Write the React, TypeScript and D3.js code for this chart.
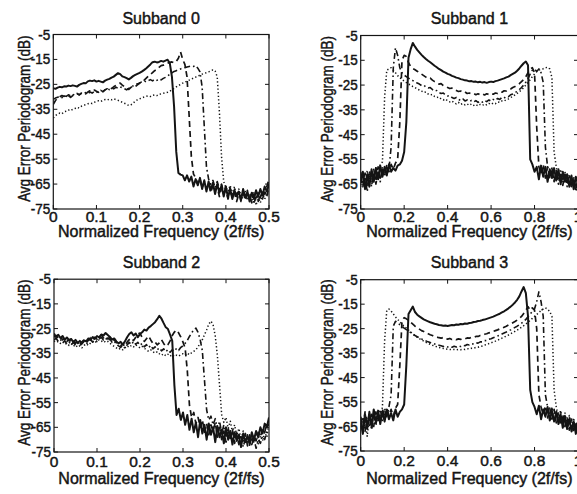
import React from 'react';
import * as d3 from 'd3';

const FONT = '"Liberation Sans", Arial, Helvetica, sans-serif';

// ---------- labels & ticks ----------
const titles = ['Subband 0', 'Subband 1', 'Subband 2', 'Subband 3'];
const xLabel = 'Normalized Frequency (2f/fs)';
const yLabel = 'Avg Error Periodogram (dB)';
const yTicks = [-5, -15, -25, -35, -45, -55, -65, -75];
const xTicksHalf = [0, 0.1, 0.2, 0.3, 0.4, 0.5];
const xTickLabelsHalf = ['0', '0.1', '0.2', '0.3', '0.4', '0.5'];
const xTicksFull = [0, 0.2, 0.4, 0.6, 0.8, 1];
const xTickLabelsFull = ['0', '0.2', '0.4', '0.6', '0.8', '1'];

// frequency sampling of the curves
const stepHalf = 0.005; // subbands 0 and 2 : 0 .. 0.5
const stepFull = 0.01; // subbands 1 and 3 : 0 .. 1

// ---------- Subband 0 (dB) ----------
const sb0Solid = [
  -26.5, -26.8, -26.3, -26, -26.2, -25.8, -25.9, -25.5, -25.7, -25.4,
  -25.6, -25.9, -25.2, -24.8, -24.5, -24.6, -23.8, -23.5, -23.7, -23.4,
  -23.9, -23.6, -23.9, -24.2, -23.5, -23.1, -22.8, -22.3, -21.9, -21.2,
  -20.5, -20.9, -21.8, -22.1, -22.5, -23, -22.4, -21.7, -21.2, -20.8,
  -20.4, -19.9, -19.3, -18.6, -17.8, -17, -16.1, -15.9, -16.2, -16,
  -15.6, -15.9, -15.5, -15.1, -16.5, -22, -34, -52, -60.5, -61.2,
  -61.5, -63.5, -61.5, -64, -62, -66, -63, -65.5, -62.5, -67,
  -63.5, -68, -64, -67.5, -64.5, -69, -65, -68.5, -65.5, -70,
  -66, -70.5, -67, -71, -67.5, -70, -68, -71.5, -67, -70.5,
  -68, -72, -68.5, -71, -67.5, -70, -67, -69.5, -66, -68,
  -65,
];
const sb0Dashed = [
  -33, -31.5, -30.5, -30, -29.5, -29.8, -29.2, -29.6, -30.2, -29.5,
  -29, -28.6, -29.2, -28.5, -28.2, -28.8, -28.1, -27.6, -27.9, -27.3,
  -27.8, -28.2, -27.6, -27.9, -27.2, -26.8, -27.3, -26.6, -26, -25.5,
  -25, -24.5, -25.3, -26, -26.8, -27, -26.2, -25.6, -25.9, -25.2,
  -24.6, -24.1, -23.4, -22.6, -21.8, -21, -20.3, -19.5, -19, -18.2,
  -17.5, -17.3, -16.8, -16.5, -16.2, -16, -16.4, -15.8, -14.5, -12,
  -15, -17, -22, -38, -54, -61, -62.5, -65, -63, -66.5,
  -64, -67, -65, -68.5, -65.5, -67.5, -66, -70, -66.5, -69,
  -67.5, -71, -68, -70, -68.5, -72, -69, -70.5, -68, -71.5,
  -69, -70, -72.5, -69, -71, -68.5, -70.5, -67.5, -69, -66,
  -63,
];
const sb0DashDot = [
  -31, -30.5, -30.2, -29.8, -30.3, -29.5, -29.8, -29.2, -29.6, -29,
  -29.4, -28.8, -29.2, -28.6, -28.9, -28.3, -28.7, -28.1, -28.5, -27.9,
  -28.3, -27.8, -27.4, -27.9, -27.2, -26.8, -27.1, -26.5, -26.8, -26.2,
  -26.5, -26, -26.4, -26.8, -27.2, -26.6, -26.2, -25.6, -25.1, -24.8,
  -24.4, -24, -23.6, -24, -23.5, -23.1, -23.6, -23, -23.4, -22.8,
  -23.2, -22.6, -22.2, -21.6, -21, -20.4, -19.8, -19.5, -19.2, -18.8,
  -18.5, -18.3, -18, -17.8, -17.6, -17.8, -17.5, -18.5, -20, -26,
  -42, -58, -63, -65, -63.5, -66.5, -64, -67, -65, -68.5,
  -66, -69, -66.5, -70.5, -67, -69.5, -67.5, -72, -69, -70,
  -67.5, -71, -68, -73, -69.5, -72, -69, -71, -68, -70,
  -66,
];
const sb0Dotted = [
  -38.5, -37.5, -37, -36.5, -36.8, -36, -35.8, -35.3, -35.6, -35,
  -34.7, -34.2, -34.5, -33.8, -33.5, -33.1, -32.8, -32.5, -32.7, -32.2,
  -31.9, -31.6, -31.9, -31.4, -31.1, -31.3, -30.9, -31.2, -30.8, -31.1,
  -31.4, -31.8, -32.2, -32.6, -33, -33.5, -33.2, -32.5, -31.8, -31.2,
  -30.8, -30.5, -30.1, -29.8, -29.6, -29.9, -29.4, -29.2, -29.5, -29,
  -28.8, -28.6, -28.4, -28.2, -27.8, -27.2, -26.6, -26, -25.5, -25,
  -24.5, -24.1, -23.7, -23.3, -22.9, -22.5, -22.1, -21.7, -21.3, -20.9,
  -20.6, -20.3, -20, -19.6, -19.2, -19.6, -22, -36, -54, -64,
  -66.5, -68, -65.5, -69, -66, -70.5, -67, -69.5, -70, -68,
  -71.5, -69, -72, -68.5, -73.5, -70, -72.5, -69, -71, -68.5,
  -70,
];

// ---------- Subband 2 (dB) ----------
const sb2Solid = [
  -27, -28.5, -27.5, -28.8, -28, -29.5, -28.6, -29.8, -29.2, -30.5,
  -29.6, -30.8, -30, -31, -29.8, -30.2, -29, -29.6, -28.4, -29.2,
  -28, -28.6, -27.4, -27.8, -26.8, -27.6, -28.4, -29.5, -29, -30.2,
  -31, -30.4, -31.5, -30.2, -28.5, -27.2, -26.5, -27.8, -27, -28.5,
  -27.2, -26.5, -25.4, -25.8, -24.6, -24, -23.2, -22.4, -21.2, -19.8,
  -21, -22.8, -24.5, -25.2, -27.5, -30, -48, -60, -57.5, -62,
  -59, -64, -60, -66, -61.5, -67, -63, -69, -62, -67.5,
  -64, -70, -63.5, -68, -65, -71, -64.5, -69, -66, -71.5,
  -65, -70, -66.5, -72, -67, -70.5, -68, -73, -67.5, -71,
  -68.5, -72, -67, -70, -66.5, -69, -65, -67.5, -63.5, -65,
  -61,
];
const sb2Dashed = [
  -28.5, -27.8, -29, -28.2, -29.6, -28.8, -30.2, -29.4, -30.6, -29.8,
  -31, -30.2, -31.3, -30.4, -29.5, -30.6, -29.8, -28.7, -29.6, -28.5,
  -29.3, -28.2, -27.6, -28.8, -28, -29.2, -28.5, -30, -29.4, -30.8,
  -31.5, -32, -31.2, -32.3, -30.5, -29.5, -28.8, -29.9, -28.5, -27.2,
  -26.8, -28.6, -30.2, -29.1, -28, -29.6, -31, -30.4, -31.6, -30.8,
  -29.5, -31, -32.2, -31.5, -30, -27.8, -26.4, -25.6, -26.8, -28.5,
  -30.5, -33, -42, -56, -61, -59, -63.5, -61, -65, -62,
  -67, -63.5, -68, -64, -66.5, -63, -69, -65, -70, -66.5,
  -71, -67, -69.5, -66, -71.5, -68, -72, -69, -70.5, -67.5,
  -72.5, -69, -71, -68, -70.5, -67, -69, -65.5, -67, -63.5,
  -64,
];
const sb2DashDot = [
  -29.5, -29, -30.2, -29.4, -30.8, -30, -31.2, -30.4, -31.6, -30.6,
  -31.8, -30.8, -32, -31, -30.2, -31.2, -30.4, -29.5, -30.5, -29.6,
  -30.2, -29.2, -28.6, -29.6, -28.8, -30, -29.2, -30.6, -30, -31.4,
  -32, -32.6, -31.8, -33, -31.6, -30.6, -31.5, -30.2, -31.4, -30.6,
  -31.8, -31, -32.4, -31.5, -32.8, -31.8, -33.2, -32.4, -33.6, -32.8,
  -34, -33.2, -34.4, -33.5, -34.6, -33.6, -34.2, -33, -33.8, -32.6,
  -32, -31, -29.8, -28.2, -26.8, -25.5, -24.8, -26.5, -29.5, -34,
  -46, -58, -62, -60.5, -64, -61.5, -66, -62.5, -67.5, -64,
  -68.5, -65, -70, -66.5, -69, -67, -71.5, -68, -73, -69.5,
  -71, -68, -72, -69.5, -73.5, -70, -71.5, -68.5, -70, -66.5,
  -67,
];
const sb2Dotted = [
  -30, -30.6, -30.2, -31, -30.4, -31.4, -31, -31.8, -31.2, -32.2,
  -31.6, -32.6, -32, -32.8, -31.8, -31.2, -31.8, -30.8, -30.2, -30.8,
  -30, -29.6, -30.2, -29.8, -30.6, -30.2, -31, -31.6, -32.2, -32.8,
  -33.4, -33, -33.6, -32.8, -32, -32.6, -31.8, -32.4, -31.6, -32.2,
  -32.8, -32.2, -33, -33.6, -34.2, -33.6, -34.4, -35, -34.4, -35.2,
  -35.8, -35.2, -36, -35.4, -36.2, -35.6, -36.4, -35.8, -36.2, -35.6,
  -35.2, -35.8, -35, -35.6, -34.8, -34.2, -33.6, -32.4, -31, -29.5,
  -27.5, -25.5, -23.2, -22, -23.5, -28, -36, -48, -60, -63,
  -61, -65.5, -62.5, -67, -64, -68.5, -65.5, -70, -66.5, -71.5,
  -68, -72.5, -69, -71, -67.5, -72, -68.5, -70.5, -67, -69,
  -62.5,
];

// ---------- Subband 1 (dB) ----------
const sb1Solid = [
  -64, -60, -67, -61, -66, -59, -64, -58.5, -63, -57.5,
  -62, -58, -61.5, -57, -60, -58.5, -59.5, -57.5, -57, -55.5,
  -52, -40, -14, -10.5, -8, -9.5, -10.8, -11.8, -12.8, -13.7,
  -14.5, -15.2, -15.8, -16.5, -17.2, -17.8, -18.5, -19, -19.6, -20,
  -20.5, -20.8, -21.3, -21.6, -22, -22.2, -22.6, -22.8, -23.1, -23.2,
  -23.5, -23.4, -23.7, -23.6, -23.9, -23.7, -24, -23.8, -24.1, -23.8,
  -23.6, -23.8, -23.4, -23.2, -22.9, -22.6, -22.3, -21.9, -21.6, -21,
  -20.5, -20, -19.2, -18.3, -17.2, -16.2, -15.5, -17, -55, -57,
  -60, -58, -63, -57.5, -62, -58, -64, -59, -62.5, -58.5,
  -63.5, -59, -65, -60, -64, -61, -66, -61.5, -67, -62,
  -65,
];
const sb1Dashed = [
  -62, -66, -60.5, -65, -59.5, -63.5, -60, -64, -58, -62.5,
  -59, -61, -57.5, -60, -57, -59, -56.5, -55, -40, -15,
  -13, -13.5, -16, -17.5, -18.3, -18.8, -19.4, -20, -20.6, -21.2,
  -21.8, -22.4, -22.2, -23, -23.6, -24, -24.6, -24.4, -25.2, -25.6,
  -26, -26.4, -26.2, -27, -27.2, -27.6, -27.4, -28, -27.8, -28.4,
  -28.2, -28.6, -28.4, -28.9, -28.5, -29, -28.6, -29, -28.5, -28.8,
  -28.4, -28.7, -28.2, -28.4, -27.8, -27.9, -27.3, -27.4, -26.8, -26.6,
  -26, -25.6, -25, -24.4, -23.6, -22.8, -21.6, -20, -18.5, -18,
  -20, -42, -58, -61, -57, -62.5, -58, -63, -59, -64,
  -59.5, -63, -60, -65.5, -61, -64, -62, -66.5, -62.5, -67,
  -63,
];
const sb1DashDot = [
  -60, -65, -62, -68, -61, -66, -59, -65, -60.5, -64,
  -58, -62, -57, -59, -50, -18, -10, -13, -18, -20,
  -21, -21.6, -22.2, -22.8, -23.2, -23.8, -24.2, -24.6, -25.2, -25,
  -25.8, -26.2, -26, -26.8, -27.4, -27.2, -28, -28.4, -28.2, -29,
  -29.4, -29.2, -30, -30.4, -30, -30.8, -31.2, -30.6, -31.4, -31,
  -31.6, -31.2, -31.8, -31.3, -32, -31.4, -31.9, -31.2, -31.7, -31,
  -31.5, -30.8, -31.2, -30.4, -30.8, -30, -30.3, -29.5, -29.7, -28.9,
  -28.6, -28, -27.6, -26.8, -26, -25, -23.8, -22.4, -20.5, -19,
  -18.5, -19.5, -18.5, -20, -24, -50, -58, -62, -58.5, -64,
  -60, -65, -61, -63.5, -60, -66, -61.5, -65, -63, -68,
  -64,
];
const sb1Dotted = [
  -66, -61, -64.5, -59.5, -63, -60, -62, -58, -61, -57,
  -56, -30, -19, -18.5, -18, -19, -20, -21.2, -22, -22.8,
  -23.4, -24, -24.6, -25, -25.6, -26, -26.6, -27, -27.4, -28,
  -27.8, -28.6, -29, -28.8, -29.6, -30, -29.8, -30.6, -31, -30.6,
  -31.4, -31.8, -31.4, -32.2, -32.6, -32, -32.8, -32.4, -33, -32.6,
  -33.2, -32.6, -33.2, -32.8, -33.4, -32.8, -33.2, -32.6, -33, -32.4,
  -32.8, -32.2, -32.5, -31.8, -32, -31.4, -31.5, -30.8, -30.6, -30,
  -29.6, -29, -28.4, -27.6, -27, -26, -25, -24, -22.8, -21.6,
  -20.5, -19.6, -19, -18.6, -18.4, -18, -17.8, -18.5, -22, -52,
  -58, -62, -59, -64, -60.5, -65, -61, -66, -62, -67.5,
  -63,
];

// ---------- Subband 3 (dB) ----------
const sb3Solid = [
  -63, -68, -60, -66, -59, -65, -58, -63.5, -58.5, -64,
  -59, -63, -58, -62, -59.5, -62.5, -58, -61, -59, -58,
  -56, -40, -19, -17.5, -16, -18.2, -19.3, -20, -20.6, -21.2,
  -21.6, -22, -22.4, -22.7, -23, -23.2, -23.5, -23.6, -23.8, -23.7,
  -23.9, -23.7, -23.5, -23.6, -23.3, -23.4, -23.1, -23.2, -22.9, -23,
  -22.7, -22.6, -22.3, -22.2, -21.9, -21.8, -21.5, -21.3, -21, -20.7,
  -20.4, -20.1, -19.7, -19.3, -18.9, -18.4, -17.9, -17.3, -16.7, -16,
  -15.2, -14.3, -13.2, -11.8, -9.8, -8, -10.5, -20, -50, -55,
  -57, -60, -56.5, -62, -58, -61, -57, -62.5, -58.5, -63,
  -59, -64, -60, -65.5, -61, -66, -62, -67, -63, -68,
  -64,
];
const sb3Dashed = [
  -61, -65, -59, -63.5, -60, -66, -61, -64, -59.5, -62.5,
  -58, -61.5, -57.5, -60.5, -58, -61, -57.5, -56, -40, -22,
  -20.5, -21, -21.6, -22.4, -23.2, -24, -24.6, -25.2, -25.8, -26.2,
  -26.8, -27.1, -27.5, -27.8, -28.2, -28.4, -28.7, -28.9, -28.6, -29.1,
  -29.3, -29, -29.4, -29.1, -29.5, -29.2, -29.4, -29, -29.2, -28.8,
  -28.9, -28.5, -28.6, -28.2, -28.2, -27.8, -27.7, -27.3, -27.1, -26.7,
  -26.5, -26.1, -25.8, -25.5, -25.1, -24.8, -24.4, -24, -23.5, -23.1,
  -22.6, -22.1, -21.5, -20.8, -20, -18.8, -17.5, -16, -17.5, -16.5,
  -17.5, -25, -52, -57, -60, -56.5, -61.5, -57.5, -62, -58,
  -63.5, -59.5, -64.5, -60, -65, -61.5, -66.5, -62, -67.5, -63,
  -68,
];
const sb3DashDot = [
  -66, -61, -67, -62, -64.5, -60, -65, -59, -63, -58,
  -62.5, -57.5, -61, -57, -52, -24, -22, -22.5, -23.4, -24,
  -24.8, -25.4, -26, -26.6, -27.2, -27.8, -28.3, -28.8, -29.2, -29.7,
  -30, -30.4, -30.7, -31, -31.3, -31.6, -31.8, -32, -32.3, -32.1,
  -32.5, -32.3, -32.6, -32.2, -32.5, -32, -32.3, -31.8, -32, -31.5,
  -31.7, -31.2, -31.3, -30.8, -30.9, -30.4, -30.4, -29.9, -29.8, -29.3,
  -29.1, -28.7, -28.4, -28, -27.7, -27.2, -26.8, -26.4, -25.9, -25.5,
  -25, -24.5, -24, -23.4, -22.8, -22, -21.2, -20.2, -19, -18,
  -17, -14, -10, -14, -20, -52, -57, -61, -57.5, -62.5,
  -58.5, -63.5, -59, -64, -60.5, -65.5, -61, -66, -62.5, -67,
  -63.5,
];
const sb3Dotted = [
  -62, -67, -63, -69, -61.5, -66, -60, -64.5, -59.5, -62,
  -57, -30, -17.5, -17, -17.8, -19, -20.2, -21.2, -22.2, -23.2,
  -24, -24.8, -25.6, -26.4, -27.2, -27.9, -28.5, -29.1, -29.6, -30.1,
  -30.6, -31, -31.4, -31.8, -32.1, -32.4, -32.7, -32.9, -33.1, -33.3,
  -33.4, -33.5, -33.6, -33.5, -33.7, -33.5, -33.6, -33.4, -33.5, -33.2,
  -33.3, -33, -33, -32.7, -32.6, -32.2, -32.1, -31.7, -31.5, -31.1,
  -30.8, -30.4, -30.1, -29.7, -29.3, -28.9, -28.5, -28, -27.6, -27.1,
  -26.6, -26.1, -25.6, -25, -24.4, -23.8, -23.1, -22.4, -21.6, -20.8,
  -20, -19.2, -18.4, -17.6, -17, -16.5, -17, -18, -20, -50,
  -57, -61.5, -58.5, -63, -59.5, -64.5, -60.5, -65.5, -61.5, -66.5,
  -62.5,
];

// ---------- line styles (solid, dashed, dash-dot, dotted) ----------
const lineStyles = [
  { dash: undefined as string | undefined, width: 2.0 },
  { dash: '6,4', width: 1.7 },
  { dash: '6,3,1.6,3', width: 1.6 },
  { dash: '1.3,2.3', width: 1.5 },
];

// ---------- panel layout ----------
const panels = [
  { title: titles[0], left: 53.3, right: 269, top: 34.5, bottom: 209, fMax: 0.5, step: stepHalf,
    series: [sb0Solid, sb0Dashed, sb0DashDot, sb0Dotted], ticks: xTicksHalf, tickLabels: xTickLabelsHalf,
    titleY: 24, tickY: 221.5, xlabY: 236.5, ylabX: 30 },
  { title: titles[1], left: 360.7, right: 578, top: 35.5, bottom: 209, fMax: 1, step: stepFull,
    series: [sb1Solid, sb1Dashed, sb1DashDot, sb1Dotted], ticks: xTicksFull, tickLabels: xTickLabelsFull,
    titleY: 24, tickY: 221.5, xlabY: 236.5, ylabX: 333 },
  { title: titles[2], left: 54, right: 269, top: 279.2, bottom: 452, fMax: 0.5, step: stepHalf,
    series: [sb2Solid, sb2Dashed, sb2DashDot, sb2Dotted], ticks: xTicksHalf, tickLabels: xTickLabelsHalf,
    titleY: 268, tickY: 466.5, xlabY: 484, ylabX: 30 },
  { title: titles[3], left: 360.7, right: 578, top: 279.7, bottom: 451, fMax: 1, step: stepFull,
    series: [sb3Solid, sb3Dashed, sb3DashDot, sb3Dotted], ticks: xTicksFull, tickLabels: xTickLabelsFull,
    titleY: 268, tickY: 466, xlabY: 484, ylabX: 333 },
];

const INK = '#141414';
const TEXT_STROKE = 0.45;

function Panel({ p, idx }: { p: (typeof panels)[number]; idx: number }) {
  const x = d3.scaleLinear().domain([0, p.fMax]).range([p.left, p.right]);
  const y = d3.scaleLinear().domain([-75, -5]).range([p.bottom, p.top]);
  const line = d3
    .line<number>()
    .x((_, i) => x(i * p.step))
    .y((d) => y(d));
  const clipId = `clip-${idx}`;
  const tl = 4;
  const cx = (p.left + p.right) / 2;
  const cy = (p.top + p.bottom) / 2 - 3;
  const txt = { fontFamily: FONT, fill: INK, stroke: INK, strokeWidth: TEXT_STROKE };
  return (
    <g>
      <defs>
        <clipPath id={clipId}>
          <rect x={p.left} y={p.top} width={p.right - p.left} height={p.bottom - p.top} />
        </clipPath>
      </defs>
      <g clipPath={`url(#${clipId})`}>
        {p.series
          .map((s, k) => ({ s, k }))
          .reverse()
          .map(({ s, k }) => (
            <path
              key={k}
              d={line(s) || ''}
              fill="none"
              stroke={INK}
              strokeWidth={lineStyles[k].width}
              strokeDasharray={lineStyles[k].dash}
              strokeLinejoin="round"
            />
          ))}
      </g>
      <rect x={p.left} y={p.top} width={p.right - p.left} height={p.bottom - p.top} fill="none" stroke={INK} strokeWidth={1.2} />
      {p.ticks.map((t, i) => (
        <g key={`xt${i}`}>
          <line x1={x(t)} x2={x(t)} y1={p.bottom} y2={p.bottom - tl} stroke={INK} strokeWidth={1} />
          <line x1={x(t)} x2={x(t)} y1={p.top} y2={p.top + tl} stroke={INK} strokeWidth={1} />
          <text x={x(t)} y={p.tickY} textAnchor="middle" fontSize={15.5} {...txt}>
            {p.tickLabels[i]}
          </text>
        </g>
      ))}
      {yTicks.map((t, i) => (
        <g key={`yt${i}`}>
          <line x1={p.left} x2={p.left + tl} y1={y(t)} y2={y(t)} stroke={INK} strokeWidth={1} />
          <line x1={p.right} x2={p.right - tl} y1={y(t)} y2={y(t)} stroke={INK} strokeWidth={1} />
          <text
            transform={`translate(${p.left - 3},${y(t) + 5}) scale(0.9,1)`}
            textAnchor="end"
            fontSize={15}
            {...txt}
          >
            {String(t)}
          </text>
        </g>
      ))}
      <text x={cx} y={p.titleY} textAnchor="middle" fontSize={16} {...txt}>
        {p.title}
      </text>
      <text x={cx} y={p.xlabY} textAnchor="middle" fontSize={16} {...txt}>
        {xLabel}
      </text>
      <text
        transform={`translate(${p.ylabX},${cy}) rotate(-90) scale(0.84,1)`}
        textAnchor="middle"
        fontSize={16}
        {...txt}
      >
        {yLabel}
      </text>
    </g>
  );
}

export default function App() {
  return (
    <svg
      width={577}
      height={494}
      viewBox="0 0 577 494"
      style={{ position: 'absolute', left: 0, top: 0, background: '#fff' }}
    >
      <rect x={0} y={0} width={577} height={494} fill="#fff" />
      {panels.map((p, i) => (
        <Panel key={i} p={p} idx={i} />
      ))}
    </svg>
  );
}
